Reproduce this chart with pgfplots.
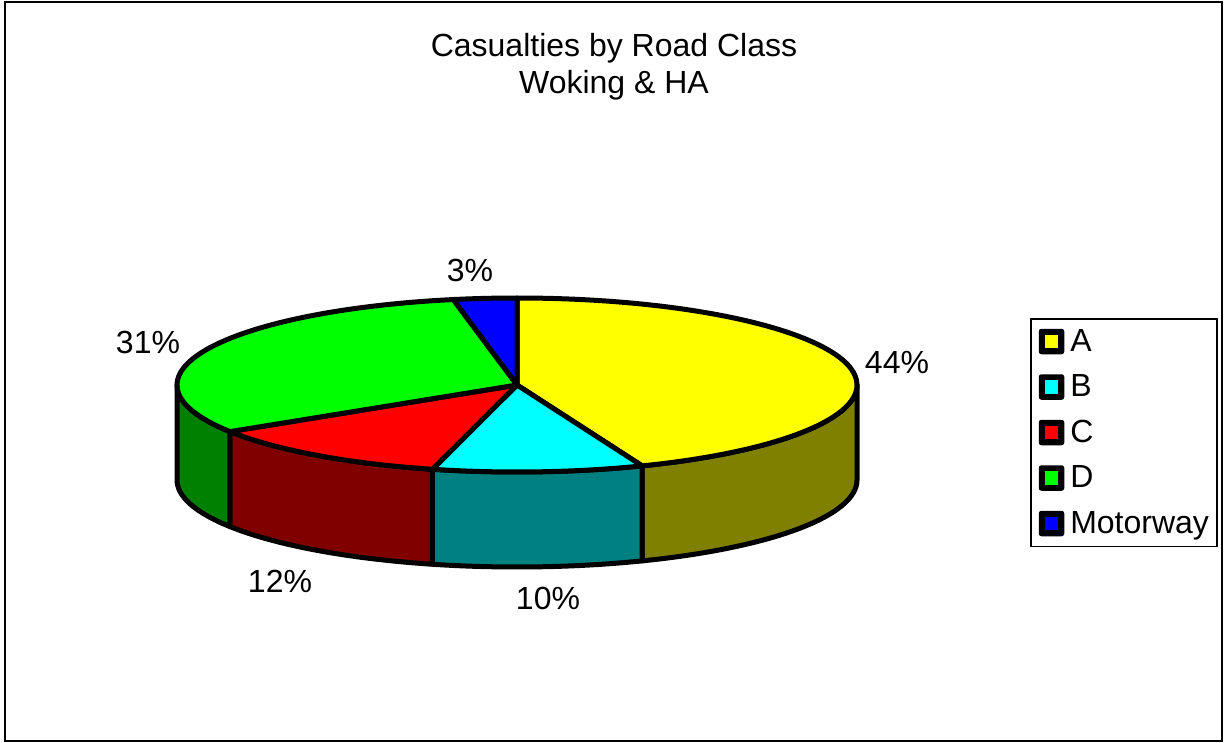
\documentclass[border=0pt]{standalone}
\usepackage{pgfplots}
\pgfplotsset{compat=1.18}
\usepackage{fontspec}
\setmainfont{Liberation Sans}
\definecolor{pieyellow}{RGB}{255,255,0}
\definecolor{piecyan}{RGB}{0,255,255}
\definecolor{piered}{RGB}{255,0,0}
\definecolor{piegreen}{RGB}{0,255,0}
\definecolor{pieblue}{RGB}{0,0,255}
\definecolor{sideyellow}{RGB}{128,128,0}
\definecolor{sidecyan}{RGB}{0,128,128}
\definecolor{sidered}{RGB}{128,0,0}
\definecolor{sidegreen}{RGB}{0,128,0}
% data (percent of casualties)
\def\vA{44}\def\vB{10}\def\vC{12}\def\vD{31}\def\vM{3}
\newcommand\bigfont{\fontsize{16}{19}\selectfont}
% top face of a slice: start angle, end angle (clockwise from 12 o'clock), colour
\newcommand\topslice[3]{%
  \filldraw[fill=#3, draw=black, line width=2.5pt, line join=round]
    (axis cs:517,385) -- ++({170pt*sin(#1)},{43.5pt*cos(#1)})
    arc[start angle={90-#1}, end angle={90-#2}, x radius=170pt, y radius=43.5pt] -- cycle;}
% visible side wall of a slice
\newcommand\sideslice[3]{%
  \filldraw[fill=#3, draw=black, line width=2.5pt, line join=round]
    (axis cs:517,385) ++({170pt*sin(#1)},{43.5pt*cos(#1)})
    arc[start angle={90-#1}, end angle={90-#2}, x radius=170pt, y radius=43.5pt]
    -- ++(0pt,-47.5pt)
    arc[start angle={90-#2}, end angle={90-#1}, x radius=170pt, y radius=43.5pt] -- cycle;}
\begin{document}
\begin{tikzpicture}
\pgfmathsetmacro\tot{\vA+\vB+\vC+\vD+\vM}
\pgfmathsetmacro\unitang{360/\tot}
\pgfmathsetmacro\tA{\unitang*\vA}
\pgfmathsetmacro\tB{\unitang*(\vA+\vB)}
\pgfmathsetmacro\tC{\unitang*(\vA+\vB+\vC)}
\pgfmathsetmacro\tD{\unitang*(\vA+\vB+\vC+\vD)}
\begin{axis}[
  hide axis, scale only axis, clip=false,
  width=612.5pt, height=371.5pt,
  xmin=0, xmax=1225, ymin=0, ymax=743, y dir=reverse,
  legend cell align=left,
  legend image code/.code={\fill[black, rounded corners=1pt] (0pt,-6pt) rectangle (12pt,6pt);
    \fill[#1] (2.2pt,-3.8pt) rectangle (9.8pt,3.8pt);},
  legend style={at={(axis cs:1030,318)}, anchor=north west, draw=black, line width=0.75pt,
    fill=white, inner xsep=4pt, inner ysep=5pt, row sep=10pt, column sep=3pt,
    font=\bigfont, nodes={inner sep=0pt}},
]
\path (axis cs:0,0) rectangle (axis cs:1225,743);
\draw[line width=1pt] (axis cs:4.5,2.5) rectangle (axis cs:1221.5,740.5);
% side walls
\sideslice{90}{\tA}{sideyellow}
\sideslice{\tA}{\tB}{sidecyan}
\sideslice{\tB}{\tC}{sidered}
\sideslice{\tC}{270}{sidegreen}
% top faces
\topslice{0}{\tA}{pieyellow}
\topslice{\tA}{\tB}{piecyan}
\topslice{\tB}{\tC}{piered}
\topslice{\tC}{\tD}{piegreen}
\topslice{\tD}{360}{pieblue}
% labels
\node[font=\bigfont] at (axis cs:897,362) {44\%};
\node[font=\bigfont] at (axis cs:548,598) {10\%};
\node[font=\bigfont] at (axis cs:280,581) {12\%};
\node[font=\bigfont] at (axis cs:148,342) {31\%};
\node[font=\bigfont] at (axis cs:470,270) {3\%};
% title
\node[font=\bigfont, anchor=base] at (axis cs:614,57) {Casualties by Road Class};
\node[font=\bigfont, anchor=base] at (axis cs:614,94) {Woking \& HA};
% legend
\addlegendimage{fill=pieyellow}\addlegendentry{A}
\addlegendimage{fill=piecyan}\addlegendentry{B}
\addlegendimage{fill=piered}\addlegendentry{C}
\addlegendimage{fill=piegreen}\addlegendentry{D}
\addlegendimage{fill=pieblue}\addlegendentry{Motorway}
\end{axis}
\end{tikzpicture}
\end{document}
